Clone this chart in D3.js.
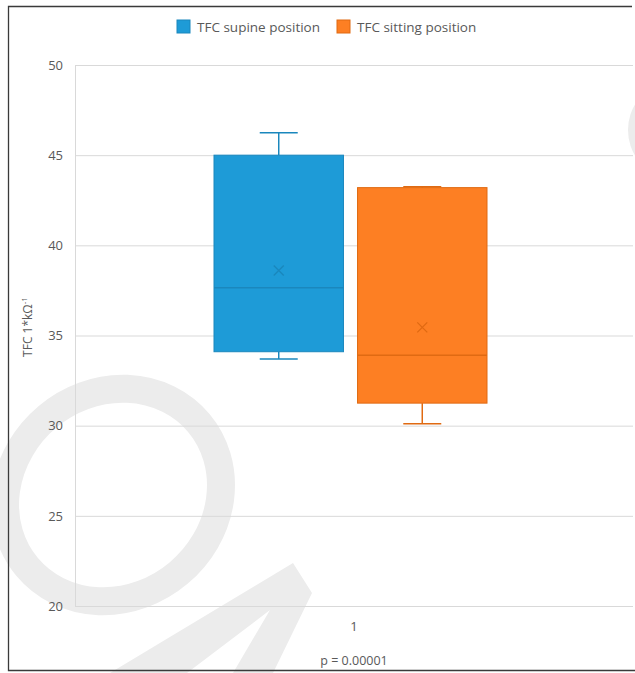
<!DOCTYPE html>
<html><head><meta charset="utf-8">
<script src="https://cdn.jsdelivr.net/npm/d3@7"></script>
<style>
html,body{margin:0;padding:0;background:#fff;}
text{font-family:"Open Sans",sans-serif;fill:#595959;}
</style></head>
<body>
<script>
const categories = ["1"];
const seriesNames = ["TFC supine position", "TFC sitting position"];
const whiskerLow = [33.7, 30.1];
const q1 = [34.1, 31.25];
const median = [37.65, 33.9];
const q3 = [45.0, 43.2];
const whiskerHigh = [46.25, 43.25];
const mean = [38.6, 35.45];
const yTicks = [20, 25, 30, 35, 40, 45, 50];
const fills = ["#1e9bd7", "#fd7f23"];
const strokes = ["#1a87bd", "#e06a12"];
const pLabel = "p = 0.00001";

const W = 635, H = 673;
const svg = d3.select("body").append("svg").attr("width", W).attr("height", H);

// watermark
const wm = svg.append("g").attr("fill", "#ececec");
wm.append("ellipse").attr("cx", 113).attr("cy", 495).attr("rx", 112).attr("ry", 102)
  .attr("transform", "rotate(-40 113 495)").attr("fill", "none").attr("stroke", "#ececec").attr("stroke-width", 28);
wm.append("polygon").attr("points", "110,673 293,563 312,593 273,673 233,673 270,610 187,673");
wm.append("ellipse").attr("cx", 662).attr("cy", 130).attr("rx", 34).attr("ry", 42);

// frame
svg.append("path").attr("d", "M632,6.5 H8.5 V670.5 H635").attr("fill", "none").attr("stroke", "#3a3a3a").attr("stroke-width", 1.3);

const y = d3.scaleLinear().domain([20, 50]).range([606, 65]);
const x = d3.scaleBand().domain(categories).range([75, 633]).padding(0);
const x1 = d3.scaleBand().domain(seriesNames).range([139, 412]).paddingInner(0.098).paddingOuter(0);

// grid
const yAxis = d3.axisLeft(y).tickValues(yTicks).tickSize(-(633 - 75)).tickPadding(12);
const ga = svg.append("g").attr("transform", "translate(75,0)").call(yAxis);
ga.select(".domain").remove();
ga.selectAll(".tick line").attr("stroke", "#d9d9d9").attr("stroke-width", 1);
ga.selectAll(".tick text").attr("font-size", 13).attr("fill", "#595959").style("font-family", "'Open Sans',sans-serif");
svg.append("line").attr("x1", 75.5).attr("x2", 75.5).attr("y1", y(50)).attr("y2", y(20)).attr("stroke", "#d9d9d9");

// x axis labels
const xAxis = d3.axisBottom(x).tickSize(0).tickPadding(16);
const gx = svg.append("g").attr("transform", `translate(0,${y(20)})`).call(xAxis);
gx.select(".domain").remove();
gx.selectAll(".tick text").attr("font-size", 13).attr("fill", "#595959").style("font-family", "'Open Sans',sans-serif");

svg.append("text").attr("x", x("1") + x.bandwidth() / 2).attr("y", 665).attr("text-anchor", "middle")
  .attr("font-size", 12.5).text(pLabel);

// y title
const yt = svg.append("text").attr("transform", "translate(32,327) rotate(-90)").attr("text-anchor", "middle").attr("font-size", 12);
yt.append("tspan").text("TFC 1*kΩ");
yt.append("tspan").attr("font-size", 8).attr("dy", -5).text("-1");

// boxes
seriesNames.forEach((s, i) => {
  const left = x("1") + x1(s), bw = x1.bandwidth(), cx = left + bw / 2;
  const cap = 38;
  const gg = svg.append("g");
  gg.append("line").attr("x1", cx).attr("x2", cx).attr("y1", y(q3[i])).attr("y2", y(whiskerHigh[i])).attr("stroke", strokes[i]).attr("stroke-width", 1.5);
  gg.append("line").attr("x1", cx).attr("x2", cx).attr("y1", y(q1[i])).attr("y2", y(whiskerLow[i])).attr("stroke", strokes[i]).attr("stroke-width", 1.5);
  gg.append("line").attr("x1", cx - cap / 2).attr("x2", cx + cap / 2).attr("y1", y(whiskerHigh[i])).attr("y2", y(whiskerHigh[i])).attr("stroke", strokes[i]).attr("stroke-width", 1.5);
  gg.append("line").attr("x1", cx - cap / 2).attr("x2", cx + cap / 2).attr("y1", y(whiskerLow[i])).attr("y2", y(whiskerLow[i])).attr("stroke", strokes[i]).attr("stroke-width", 1.5);
  gg.append("rect").attr("x", left).attr("y", y(q3[i])).attr("width", bw).attr("height", y(q1[i]) - y(q3[i]))
    .attr("fill", fills[i]).attr("stroke", strokes[i]).attr("stroke-width", 1);
  gg.append("line").attr("x1", left).attr("x2", left + bw).attr("y1", y(median[i])).attr("y2", y(median[i])).attr("stroke", strokes[i]).attr("stroke-width", 1.5);
  const m = 5, my = y(mean[i]);
  gg.append("path").attr("d", `M${cx - m},${my - m}L${cx + m},${my + m}M${cx - m},${my + m}L${cx + m},${my - m}`)
    .attr("stroke", strokes[i]).attr("stroke-width", 1.3).attr("fill", "none");
});

// legend
const legX = [177, 337];
seriesNames.forEach((s, i) => {
  const lg = svg.append("g").attr("transform", `translate(${legX[i]},20)`);
  lg.append("rect").attr("width", 13).attr("height", 13).attr("fill", fills[i]).attr("stroke", strokes[i]);
  lg.append("text").attr("x", 20).attr("y", 11.5).attr("font-size", 13.5).text(s);
});
</script>
</body></html>
